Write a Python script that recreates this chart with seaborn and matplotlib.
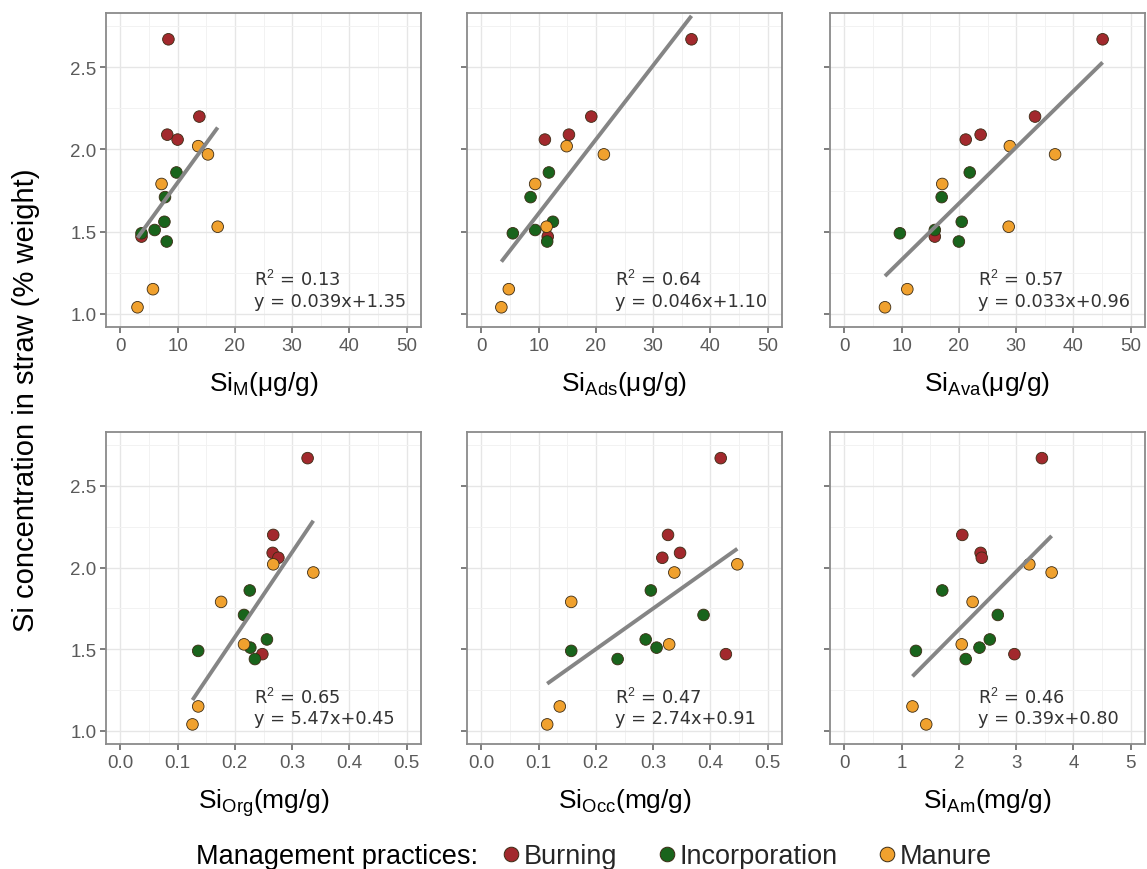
import numpy as np
import pandas as pd
import matplotlib
matplotlib.use("Agg")
import matplotlib.pyplot as plt
import seaborn as sns
from matplotlib.lines import Line2D
from matplotlib.ticker import MultipleLocator, FormatStrFormatter

# ---------------- data ----------------
groups = ["Burning"] * 5 + ["Incorporation"] * 6 + ["Manure"] * 6
si_straw = [2.67, 2.20, 2.09, 2.06, 1.47,
            1.86, 1.71, 1.56, 1.51, 1.49, 1.44,
            2.02, 1.97, 1.79, 1.53, 1.15, 1.04]
si_m = [8.4, 13.8, 8.2, 10.0, 3.7,
        9.8, 7.8, 7.7, 6.0, 3.7, 8.1,
        13.6, 15.3, 7.2, 17.0, 5.7, 3.0]
si_ads = [36.7, 19.2, 15.3, 11.1, 11.6,
          11.8, 8.6, 12.5, 9.4, 5.5, 11.5,
          14.9, 21.4, 9.4, 11.4, 4.8, 3.5]
si_ava = [45.1, 33.3, 23.8, 21.2, 15.8,
          21.9, 17.0, 20.5, 15.8, 9.7, 20.0,
          28.9, 36.8, 17.1, 28.7, 11.0, 7.1]
si_org = [0.327, 0.267, 0.266, 0.276, 0.248,
          0.226, 0.216, 0.256, 0.227, 0.136, 0.235,
          0.267, 0.337, 0.176, 0.216, 0.136, 0.126]
si_occ = [0.418, 0.326, 0.347, 0.316, 0.427,
          0.296, 0.388, 0.287, 0.306, 0.157, 0.238,
          0.447, 0.337, 0.157, 0.328, 0.137, 0.115]
si_am = [3.45, 2.06, 2.38, 2.40, 2.97,
         1.71, 2.68, 2.54, 2.36, 1.25, 2.12,
         3.23, 3.62, 2.24, 2.05, 1.19, 1.43]

fractions = ["M", "Ads", "Ava", "Org", "Occ", "Am"]
units = ["μg/g", "μg/g", "μg/g", "mg/g", "mg/g", "mg/g"]
r2_labels = ["0.13", "0.64", "0.57", "0.65", "0.47", "0.46"]
eq_labels = ["y = 0.039x+1.35", "y = 0.046x+1.10", "y = 0.033x+0.96",
             "y = 5.47x+0.45", "y = 2.74x+0.91", "y = 0.39x+0.80"]
group_order = ["Burning", "Incorporation", "Manure"]
y_label = "Si concentration in straw (% weight)"
legend_title = "Management practices:"

df = pd.DataFrame({"group": groups, "straw": si_straw, "M": si_m, "Ads": si_ads,
                   "Ava": si_ava, "Org": si_org, "Occ": si_occ, "Am": si_am})

# ---------------- style ----------------
sns.set_theme(style="white")
plt.rcParams["font.family"] = ["Liberation Sans", "DejaVu Sans"]
plt.rcParams["mathtext.fontset"] = "custom"
plt.rcParams["mathtext.rm"] = "Liberation Sans"
plt.rcParams["mathtext.it"] = "Liberation Sans:italic"
plt.rcParams["mathtext.bf"] = "Liberation Sans:bold"

palette = {"Burning": "#A2292D", "Incorporation": "#19641C", "Manure": "#F0A12E"}
tick_col = "#5A5A5A"
border_col = "#8A8A8A"

W, H = 1147, 870
fig = plt.figure(figsize=(W / 100, H / 100), dpi=100)
lefts = [106, 467, 830]
tops = [14, 433]
heights = [314, 312]
width = 315

xlims = [(-2.5, 52.5)] * 3 + [(-0.025, 0.525), (-0.025, 0.525), (-0.25, 5.25)]
xmajor = [10, 10, 10, 0.1, 0.1, 1]
xfmt = ["%d", "%d", "%d", "%.1f", "%.1f", "%d"]

for i, frac in enumerate(fractions):
    r, c = divmod(i, 3)
    ax = fig.add_axes([lefts[c] / W, (H - tops[r] - heights[r]) / H,
                       width / W, heights[r] / H])
    ax.set_facecolor("white")
    ax.set_axisbelow(True)
    sns.scatterplot(data=df, x=frac, y="straw", hue="group", hue_order=group_order,
                    palette=palette, s=70, edgecolor="#3B2B14", linewidth=0.6,
                    legend=False, ax=ax, zorder=3)
    sns.regplot(data=df, x=frac, y="straw", scatter=False, ci=None, truncate=True,
                color="#858585", line_kws=dict(lw=2.8, zorder=4, solid_capstyle="butt"),
                ax=ax)
    ax.set_xlim(*xlims[i])
    ax.set_ylim(0.92, 2.83)
    ax.xaxis.set_major_locator(MultipleLocator(xmajor[i]))
    ax.xaxis.set_minor_locator(MultipleLocator(xmajor[i] / 2))
    ax.xaxis.set_major_formatter(FormatStrFormatter(xfmt[i]))
    ax.yaxis.set_major_locator(MultipleLocator(0.5))
    ax.yaxis.set_minor_locator(MultipleLocator(0.25))
    ax.yaxis.set_major_formatter(FormatStrFormatter("%.1f"))
    ax.grid(which="major", color="#E6E6E6", lw=1.0)
    ax.grid(which="minor", color="#F2F2F2", lw=0.7)
    for s in ax.spines.values():
        s.set_color(border_col)
        s.set_linewidth(1.3)
    ax.tick_params(which="major", direction="out", length=4, width=1.1,
                   color=tick_col, labelcolor=tick_col, labelsize=13.5, pad=3,
                   bottom=True, left=True)
    ax.tick_params(which="minor", length=0)
    if c != 0:
        ax.tick_params(labelleft=False)
    ax.set_ylabel("")
    ax.set_xlabel(rf"Si$_{{\mathrm{{{frac}}}}}$({units[i]})", fontsize=19,
                  labelpad=11, color="black")
    ax.text(0.47, 0.152, rf"R$^{{2}}$ = {r2_labels[i]}", transform=ax.transAxes,
            ha="left", va="center", fontsize=12.8, color="#333333",
            family="DejaVu Sans", zorder=5)
    ax.text(0.47, 0.083, eq_labels[i], transform=ax.transAxes,
            ha="left", va="center", fontsize=12.8, color="#333333",
            family="DejaVu Sans", zorder=5)

fig.text(26 / W, (H - 400) / H, y_label, rotation=90, ha="center", va="center",
         fontsize=21, color="black")

ly = (H - 857) / H
fig.text(196 / W, ly, legend_title, ha="left", va="center", fontsize=19.5, color="black")
handles = [Line2D([], [], ls="", marker="o", markersize=10.5, markerfacecolor=palette[g],
                  markeredgecolor="#3B2B14", markeredgewidth=0.7) for g in group_order]
fig.legend(handles, group_order, loc="center left", bbox_to_anchor=(503 / W, ly),
           ncol=3, frameon=False, fontsize=19.5, handletextpad=0.15, columnspacing=1.55,
           handlelength=0.6, borderaxespad=0, borderpad=0)

fig.savefig("out.png", dpi=100, facecolor="white")
